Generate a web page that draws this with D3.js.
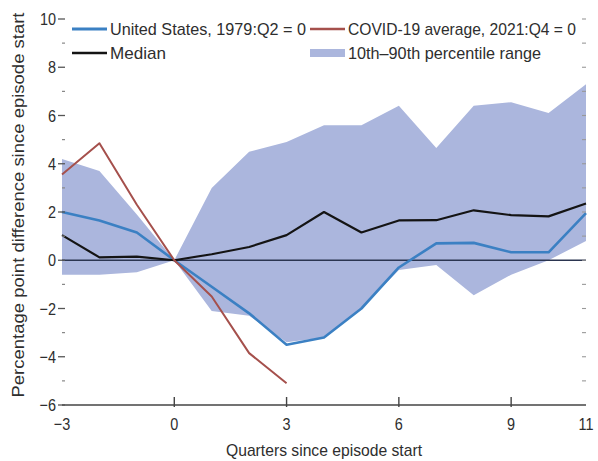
<!DOCTYPE html>
<html><head><meta charset="utf-8">
<script src="https://cdn.jsdelivr.net/npm/d3@7"></script>
<style>
html,body{margin:0;padding:0;background:#fff;}
svg{display:block;font-family:"Liberation Sans Narrow","Liberation Sans",Arial,sans-serif;}
</style></head>
<body>
<svg id="chart" width="598" height="461"></svg>
<script>
const quarters = [-3,-2,-1,0,1,2,3,4,5,6,7,8,9,10,11];
const bandUpper = [4.2,3.7,1.9,0,3.0,4.5,4.9,5.6,5.6,6.4,4.65,6.4,6.55,6.1,7.3];
const bandLower = [-0.6,-0.6,-0.5,0,-2.1,-2.3,-3.4,-3.2,-2.0,-0.4,-0.2,-1.45,-0.6,0.0,0.8];
const unitedStates = [2.0,1.65,1.15,0,-1.1,-2.2,-3.5,-3.2,-2.0,-0.3,0.7,0.72,0.33,0.33,1.95];
const median = [1.04,0.12,0.15,0,0.25,0.55,1.04,2.0,1.15,1.65,1.66,2.07,1.87,1.82,2.35];
const covidQuarters = [-3,-2,-1,0,1,2,3];
const covid = [3.55,4.85,2.3,0,-1.5,-3.85,-5.1];
const yMajorTicks = [-6,-4,-2,0,2,4,6,8,10];
const yMinorTicks = [-5,-3,-1,1,3,5,7,9];
const xTickValues = [-3,0,3,6,9,11];
const xTickMarks = [0,3,6,9];
const legendItems = ["United States, 1979:Q2 = 0","Median","COVID-19 average, 2021:Q4 = 0","10th\u201390th percentile range"];
const yTitle = "Percentage point difference since episode start";
const xTitle = "Quarters since episode start";

const svg = d3.select("#chart");
const x = d3.scaleLinear().domain([-3,11]).range([62,586]);
const y = d3.scaleLinear().domain([-6,10]).range([405,19]);

const colBand = "#abb6dd", colUS = "#3b80c3", colMed = "#141414", colCovid = "#a5504c";
const txt = "#2e2e2e";

// band
const area = d3.area().x((d,i)=>x(quarters[i])).y0((d,i)=>y(bandLower[i])).y1((d,i)=>y(bandUpper[i]));
svg.append("path").datum(bandUpper).attr("d",area).attr("fill",colBand);

// zero line
svg.append("line").attr("x1",x(-3)).attr("x2",x(11)).attr("y1",y(0)).attr("y2",y(0))
  .attr("stroke","#2b3550").attr("stroke-width",1.6);

const line = (xs) => d3.line().x((d,i)=>x(xs[i])).y(d=>y(d));
svg.append("path").datum(unitedStates).attr("d",line(quarters)).attr("fill","none")
  .attr("stroke",colUS).attr("stroke-width",2.6).attr("stroke-linejoin","round");
svg.append("path").datum(median).attr("d",line(quarters)).attr("fill","none")
  .attr("stroke",colMed).attr("stroke-width",2.2).attr("stroke-linejoin","round");
svg.append("path").datum(covid).attr("d",line(covidQuarters)).attr("fill","none")
  .attr("stroke",colCovid).attr("stroke-width",2).attr("stroke-linejoin","round");

// bottom axis
const xAxis = svg.append("g");
xAxis.append("line").attr("x1",x(-3)).attr("x2",x(11)).attr("y1",y(-6)).attr("y2",y(-6))
  .attr("stroke","#444").attr("stroke-width",1.6);
xAxis.selectAll(".xt").data(xTickMarks).join("line")
  .attr("x1",d=>x(d)).attr("x2",d=>x(d)).attr("y1",y(-6)-8).attr("y2",y(-6)+2)
  .attr("stroke","#444").attr("stroke-width",1.4);
xAxis.selectAll(".xl").data(xTickValues).join("text")
  .attr("transform",d=>`translate(${x(d)},${y(-6)+25}) scale(0.85,1)`).attr("text-anchor","middle")
  .attr("font-size",17).attr("fill",txt).text(d=>d<0?"\u2212"+Math.abs(d):d);
svg.append("text").attr("x",(x(-3)+x(11))/2).attr("y",456).attr("text-anchor","middle")
  .attr("font-size",17).attr("fill",txt).attr("textLength",196).attr("lengthAdjust","spacingAndGlyphs").text(xTitle);

// left axis
const yAxis = svg.append("g");
yAxis.selectAll(".yl").data(yMajorTicks).join("text")
  .attr("transform",d=>`translate(56,${y(d)+6}) scale(0.85,1)`).attr("text-anchor","end")
  .attr("font-size",17).attr("fill",txt).text(d=>d<0?"\u2212"+Math.abs(d):d);
yAxis.selectAll(".ym").data(yMajorTicks).join("line")
  .attr("x1",58).attr("x2",65).attr("y1",d=>y(d)).attr("y2",d=>y(d))
  .attr("stroke","#555").attr("stroke-width",1.3);
yAxis.selectAll(".yn").data(yMinorTicks).join("line")
  .attr("x1",62).attr("x2",65).attr("y1",d=>y(d)).attr("y2",d=>y(d))
  .attr("stroke","#888").attr("stroke-width",1.2);
// right ticks
svg.selectAll(".rt").data(d3.range(-5,11)).join("line")
  .attr("x1",x(11)-4).attr("x2",x(11)).attr("y1",d=>y(d)).attr("y2",d=>y(d))
  .attr("stroke","#999").attr("stroke-width",1.1);

svg.append("text").attr("transform",`translate(24,205) rotate(-90)`)
  .attr("text-anchor","middle").attr("font-size",17).attr("fill",txt)
  .attr("textLength",385).attr("lengthAdjust","spacingAndGlyphs").text(yTitle);

// legend
const leg = [
  {t:legendItems[0], c:colUS, w:3, sx:72, ty:29, L:196},
  {t:legendItems[1], c:colMed, w:2.4, sx:72, ty:53, L:56},
  {t:legendItems[2], c:colCovid, w:2.4, sx:310, ty:29, L:228},
  {t:legendItems[3], c:colBand, w:8, sx:310, ty:53, L:193}
];
leg.forEach(l=>{
  svg.append("line").attr("x1",l.sx).attr("x2",l.sx+35).attr("y1",l.ty).attr("y2",l.ty)
    .attr("stroke",l.c).attr("stroke-width",l.w);
  svg.append("text").attr("x",l.sx+38).attr("y",l.ty+6).attr("font-size",17)
    .attr("fill",txt).attr("textLength",l.L).attr("lengthAdjust","spacingAndGlyphs").text(l.t);
});
</script>
</body></html>
